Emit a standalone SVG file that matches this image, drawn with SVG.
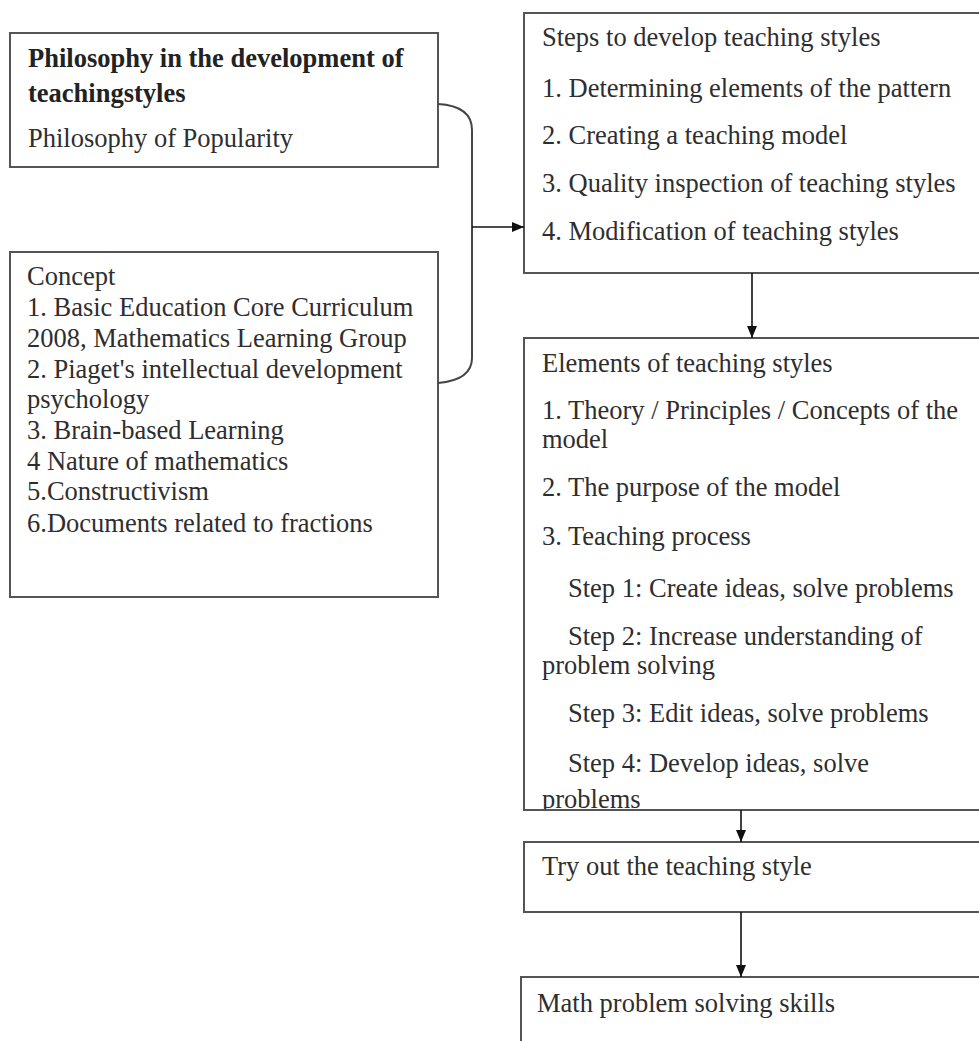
<svg xmlns="http://www.w3.org/2000/svg" width="979" height="1041" viewBox="0 0 979 1041">
  <style>
    .box { fill: #ffffff; stroke: #555555; stroke-width: 2; }
    .t { font-family: "Liberation Serif", "Times New Roman", serif; font-size: 26.5px; fill: #2e2e2e; }
    .b { font-weight: bold; fill: #222222; }
    .link { fill: none; stroke: #444444; stroke-width: 2; }
    .arrow { fill: none; stroke: #111111; stroke-width: 1.6; marker-end: url(#head); }
  </style>
  <defs>
    <marker id="head" viewBox="0 0 12 10" refX="12" refY="5" markerWidth="12" markerHeight="10" markerUnits="userSpaceOnUse" orient="auto">
      <path d="M0,0 L12,5 L0,10 Z" fill="#111111"/>
    </marker>
  </defs>
  <rect width="979" height="1041" fill="#ffffff"/>

  <g id="philosophy">
    <rect class="box" x="10" y="33" width="428" height="134"/>
    <text class="t b" x="28" y="67">Philosophy in the development of</text>
    <text class="t b" x="28" y="102">teachingstyles</text>
    <text class="t" x="28" y="147">Philosophy of Popularity</text>
  </g>

  <g id="concept">
    <rect class="box" x="10" y="252" width="428" height="345"/>
    <text class="t" x="27" y="285">Concept</text>
    <text class="t" x="27" y="316">1. Basic Education Core Curriculum</text>
    <text class="t" x="27" y="347">2008, Mathematics Learning Group</text>
    <text class="t" x="27" y="378">2. Piaget's intellectual development</text>
    <text class="t" x="27" y="408">psychology</text>
    <text class="t" x="27" y="439">3. Brain-based Learning</text>
    <text class="t" x="27" y="470">4 Nature of mathematics</text>
    <text class="t" x="27" y="500">5.Constructivism</text>
    <text class="t" x="27" y="532">6.Documents related to fractions</text>
  </g>

  <g id="steps">
    <rect class="box" x="524" y="13" width="480" height="260"/>
    <text class="t" x="542" y="46">Steps to develop teaching styles</text>
    <text class="t" x="542" y="97">1. Determining elements of the pattern</text>
    <text class="t" x="542" y="144">2. Creating a teaching model</text>
    <text class="t" x="542" y="192">3. Quality inspection of teaching styles</text>
    <text class="t" x="542" y="240">4. Modification of teaching styles</text>
  </g>

  <g id="elements">
    <clipPath id="elements-clip">
      <rect x="524" y="338" width="480" height="472"/>
    </clipPath>
    <rect class="box" x="524" y="338" width="480" height="472"/>
    <g clip-path="url(#elements-clip)">
      <text class="t" x="542" y="372">Elements of teaching styles</text>
      <text class="t" x="542" y="419">1. Theory / Principles / Concepts of the</text>
      <text class="t" x="542" y="448">model</text>
      <text class="t" x="542" y="496">2. The purpose of the model</text>
      <text class="t" x="542" y="545">3. Teaching process</text>
      <text class="t" x="568" y="597">Step 1: Create ideas, solve problems</text>
      <text class="t" x="568" y="645">Step 2: Increase understanding of</text>
      <text class="t" x="542" y="674">problem solving</text>
      <text class="t" x="568" y="722">Step 3: Edit ideas, solve problems</text>
      <text class="t" x="568" y="772">Step 4: Develop ideas, solve</text>
      <text class="t" x="542" y="808">problems</text>
    </g>
    <rect x="524" y="338" width="480" height="472" fill="none" stroke="#555555" stroke-width="2"/>
  </g>

  <g id="tryout">
    <rect class="box" x="524" y="842" width="480" height="70"/>
    <text class="t" x="542" y="875">Try out the teaching style</text>
  </g>

  <g id="skills">
    <rect class="box" x="521" y="977" width="480" height="80"/>
    <text class="t" x="537" y="1012">Math problem solving skills</text>
  </g>

  <g id="connectors">
    <!-- bracket joining the two left boxes -->
    <path class="link" d="M438,104 Q472,106 472,130 L472,358 Q472,380 438,383"/>
    <path class="arrow" d="M472,227 L524,227"/>
    <path class="arrow" d="M752,273 L752,338"/>
    <path class="arrow" d="M741,810 L741,842"/>
    <path class="arrow" d="M741,912 L741,977"/>
  </g>
</svg>
